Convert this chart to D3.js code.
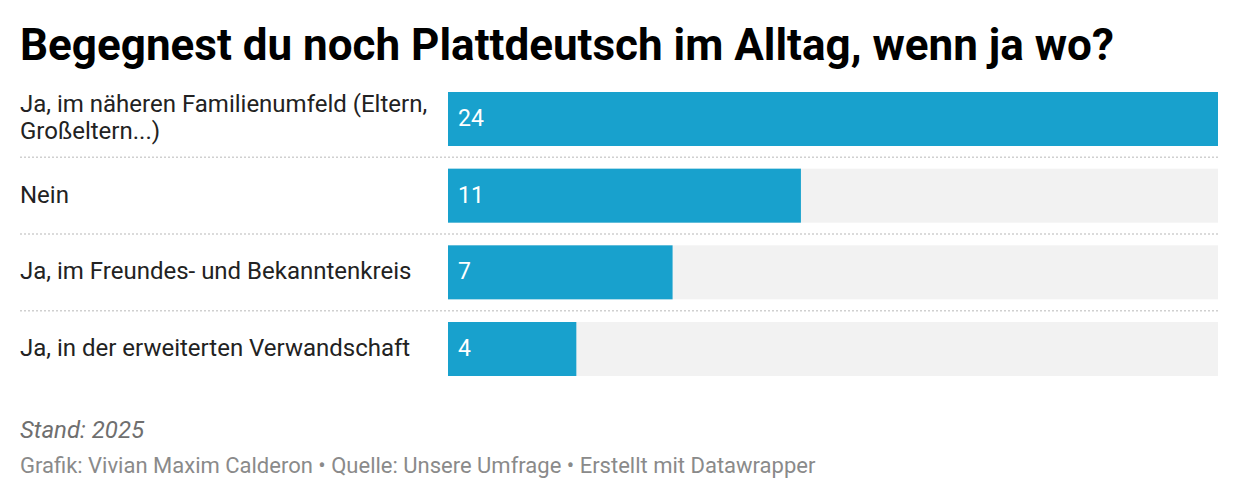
<!DOCTYPE html>
<html>
<head>
<meta charset="utf-8">
<script src="https://cdn.jsdelivr.net/npm/d3@7"></script>
<style>
  body { margin: 0; background: #fff; font-family: Roboto, "Noto Sans", sans-serif; }
</style>
</head>
<body>
<svg id="chart" width="1240" height="500"></svg>
<script>
// data
const categories = [
  "Ja, im näheren Familienumfeld (Eltern, Großeltern...)",
  "Nein",
  "Ja, im Freundes- und Bekanntenkreis",
  "Ja, in der erweiterten Verwandschaft"
];
const values = [24, 11, 7, 4];
const maxValue = 24;

const title = "Begegnest du noch Plattdeutsch im Alltag, wenn ja wo?";
const note = "Stand: 2025";
const credits = "Grafik: Vivian Maxim Calderon • Quelle: Unsere Umfrage • Erstellt mit Datawrapper";

const svg = d3.select("#chart");
const barLeft = 448, barRight = 1218;

svg.append("text")
  .attr("x", 20).attr("y", 60)
  .attr("font-size", 44).attr("font-weight", 700)
  .attr("fill", "#000")
  .text(title);

const x = d3.scaleLinear().domain([0, maxValue]).range([barLeft, barRight]);
// bars 54px high, 76.67px apart
const y = d3.scaleBand().domain(categories).range([92, 376]).paddingInner(22.67 / 76.67).paddingOuter(0);

// wrap labels into lines of max width
function wrap(textSel, width) {
  textSel.each(function() {
    const t = d3.select(this);
    const words = t.text().split(/\s+/);
    t.text(null);
    let lines = [], line = [];
    const probe = t.append("tspan");
    words.forEach(w => {
      line.push(w);
      probe.text(line.join(" "));
      if (probe.node().getComputedTextLength() > width && line.length > 1) {
        line.pop();
        lines.push(line.join(" "));
        line = [w];
      }
    });
    lines.push(line.join(" "));
    probe.remove();
    const lh = 27;
    const y0 = +t.attr("y") - (lines.length - 1) * lh / 2;
    lines.forEach((l, i) => {
      t.append("tspan").attr("x", t.attr("x")).attr("y", y0 + i * lh).text(l);
    });
  });
}

const rows = svg.append("g").selectAll("g")
  .data(categories)
  .join("g");

// background track
rows.append("rect")
  .attr("x", barLeft)
  .attr("y", d => y(d))
  .attr("width", barRight - barLeft)
  .attr("height", y.bandwidth())
  .attr("fill", "#f2f2f2");

rows.append("rect")
  .attr("x", barLeft)
  .attr("y", d => y(d))
  .attr("width", (d, i) => x(values[i]) - barLeft)
  .attr("height", y.bandwidth())
  .attr("fill", "#18a1cd");

rows.append("text")
  .attr("x", barLeft + 10)
  .attr("y", d => y(d) + y.bandwidth() / 2 + 7)
  .attr("font-size", 23)
  .attr("fill", "#fff")
  .text((d, i) => values[i]);

rows.append("text")
  .attr("x", 20)
  .attr("y", d => y(d) + y.bandwidth() / 2 + 7)
  .attr("font-size", 24)
  .attr("fill", "#222")
  .text(d => d)
  .call(wrap, 420);

// dotted separators
svg.append("g").selectAll("line")
  .data(categories.slice(1))
  .join("line")
  .attr("x1", 20).attr("x2", barRight)
  .attr("y1", d => y(d) - (y.step() - y.bandwidth()) / 2)
  .attr("y2", d => y(d) - (y.step() - y.bandwidth()) / 2)
  .attr("stroke", "#d0d0d0")
  .attr("stroke-width", 1.5)
  .attr("stroke-dasharray", "2,2");

svg.append("text")
  .attr("x", 20).attr("y", 438)
  .attr("font-size", 24).attr("font-style", "italic")
  .attr("fill", "#6f6f6f")
  .text(note);

svg.append("text")
  .attr("x", 20).attr("y", 473)
  .attr("font-size", 22)
  .attr("fill", "#8a8a8a")
  .text(credits);
</script>
</body>
</html>
